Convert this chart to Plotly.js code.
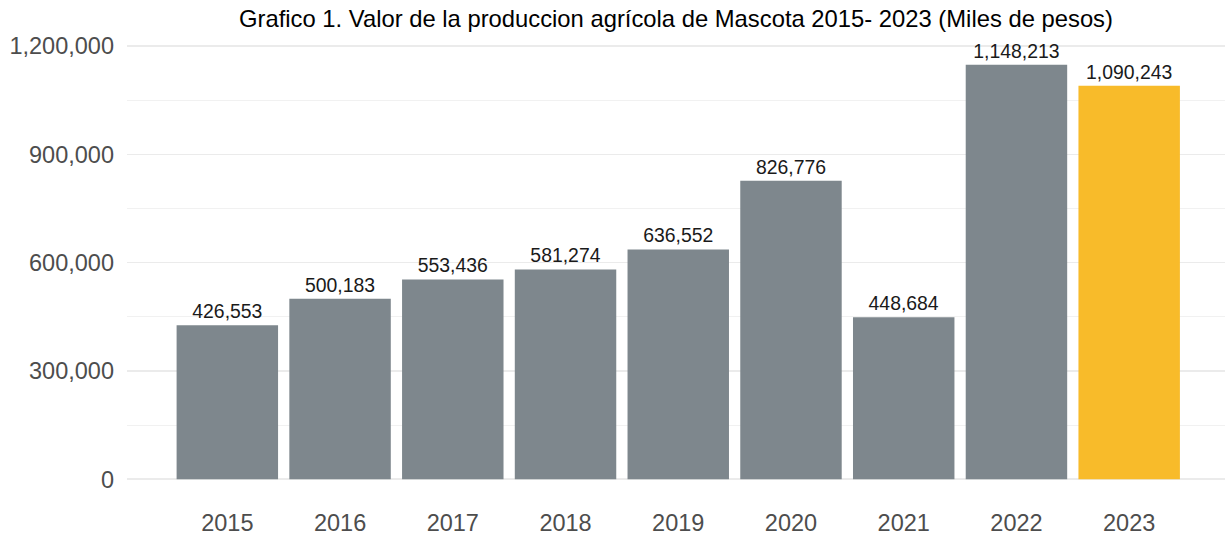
<!DOCTYPE html>
<html>
<head>
<meta charset="utf-8">
<script src="https://cdn.plot.ly/plotly-3.0.1.min.js"></script>
<style>html,body{margin:0;padding:0;background:#fff;}#chart{width:1225px;height:536px;}</style>
</head>
<body>
<div id="chart"></div>
<script>
const years = ["2015","2016","2017","2018","2019","2020","2021","2022","2023"];
const values = [426553, 500183, 553436, 581274, 636552, 826776, 448684, 1148213, 1090243];
const barColors = ["#7e878d","#7e878d","#7e878d","#7e878d","#7e878d","#7e878d","#7e878d","#7e878d","#f8bb2a"];
const yTicks = [0, 300000, 600000, 900000, 1200000];
const titleText = "Grafico 1. Valor de la produccion agrícola de Mascota 2015- 2023 (Miles de pesos)";

const trace = {
  type: "bar",
  x: years,
  y: values,
  marker: {color: barColors, line: {width: 0}},
  text: values.map(v => v.toLocaleString("en-US")),
  textposition: "outside",
  textfont: {family: "Liberation Sans, Arial, sans-serif", size: 19.4, color: "#1a1a1a"},
  cliponaxis: false,
  hoverinfo: "none"
};

const layout = {
  width: 1225,
  height: 536,
  margin: {l: 127, r: 0, t: 44, b: 36},
  paper_bgcolor: "#ffffff",
  plot_bgcolor: "#ffffff",
  showlegend: false,
  bargap: 0.1,
  font: {family: "Liberation Sans, Arial, sans-serif"},
  title: {
    text: titleText,
    font: {family: "Liberation Sans, Arial, sans-serif", size: 23.8, color: "#000000"},
    x: 0.5, xref: "paper", xanchor: "center",
    y: 0.965, yref: "container", yanchor: "middle"
  },
  xaxis: {
    type: "category",
    range: [-0.89, 8.85],
    showgrid: false,
    zeroline: false,
    showline: false,
    ticks: "",
    ticklabelstandoff: 6,
    tickfont: {size: 23.5, color: "#4d4d4d"}
  },
  yaxis: {
    range: [-57410, 1205623],
    tickvals: yTicks,
    tickformat: ",",
    showgrid: true,
    gridcolor: "#ebebeb",
    gridwidth: 1.6,
    zeroline: false,
    showline: false,
    ticks: "",
    ticklabelstandoff: 12,
    tickfont: {size: 23.5, color: "#4d4d4d"},
    minor: {dtick: 150000, tick0: 0, showgrid: true, gridcolor: "#f1f1f1", gridwidth: 1}
  }
};

Plotly.newPlot("chart", [trace], layout, {displayModeBar: false, staticPlot: true});
</script>
</body>
</html>
